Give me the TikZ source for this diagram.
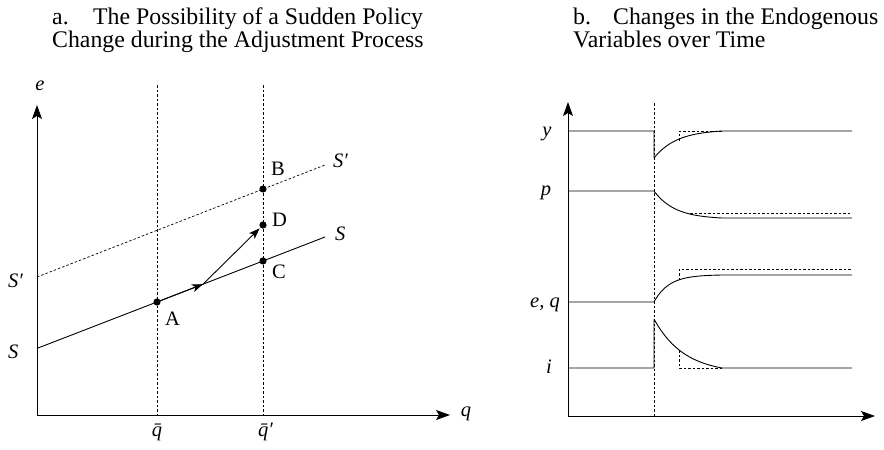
\documentclass[tikz,border=0pt]{standalone}
\usepackage{fontspec}
\setmainfont{Liberation Serif}
\usetikzlibrary{arrows.meta}
\begin{document}
\begin{tikzpicture}[x=1pt,y=-1pt,
  axis/.style={line width=1pt,-{Stealth[length=14pt,width=10pt,inset=3pt]}},
  curve/.style={line width=0.9pt},
  dots/.style={line width=0.7pt,dash pattern=on 2.5pt off 2pt},
  dotpt/.style={circle,fill=black,inner sep=0pt,minimum size=7.2pt},
  lab/.style={font=\fontsize{20.5}{22}\selectfont\itshape,inner sep=0pt,anchor=base},
  plab/.style={font=\fontsize{20.5}{22}\selectfont,inner sep=0pt,anchor=base west},
  ttl/.style={font=\fontsize{23.8}{26}\selectfont,inner sep=0pt,anchor=base west},
  midarrow/.style={line width=0.9pt,-{Stealth[length=11pt,width=8pt,inset=3pt]}}]
\useasboundingbox (0,0) rectangle (884,450);

% ---------- titles ----------
\node[ttl] (ta1) at (52,24) {\makebox[41pt][l]{a.}The Possibility of a Sudden Policy};
\node[ttl] (ta2) at (52,47) {Change during the Adjustment Process};
\node[ttl] (tb1) at (573,24) {\makebox[40pt][l]{b.}Changes in the Endogenous};
\node[ttl] (tb2) at (573,47) {Variables over Time};

% ---------- panel a ----------
\coordinate (Oa) at (37,415);
\coordinate (Ya) at (37,105);
\coordinate (Xa) at (450,415);
\coordinate (Q1t) at (157,85);
\coordinate (Q1b) at (157,415);
\coordinate (Q2t) at (263,85);
\coordinate (Q2b) at (263,415);
\draw[dots] (Q1t) -- (Q1b);
\draw[dots] (Q2t) -- (Q2b);
\draw[axis] (Oa) -- (Ya);
\draw[axis] (Oa) -- (Xa);

\coordinate (S0) at (37,348.4);
\coordinate (S1) at (325,237);
\coordinate (T0) at (37,277);
\coordinate (T1) at (325,165);
\draw[curve] (S0) -- (S1);
\draw[dots] (T0) -- (T1);

\node[dotpt] (A) at (157,302) {};
\node[dotpt] (C) at (263,261) {};
\node[dotpt] (B) at (263,189) {};
\node[dotpt] (D) at (263,225) {};
\coordinate (M) at (203,284.2);
\draw[midarrow] (A.center) -- (M);
\draw[midarrow,shorten >=1pt] (M) -- (D);

\node[lab] (le) at (40,90) {e};
\node[lab] (lq) at (466,416) {q};
\node[lab,anchor=base west] (lS1r) at (333,167) {S′};
\node[lab,anchor=base west] (lSr) at (335,240) {S};
\node[lab,anchor=base west] (lS1l) at (8,287) {S′};
\node[lab,anchor=base west] (lSl) at (8,358) {S};
\node[lab] (lqb) at (157,436) {\=q};
\node[lab,anchor=base west] (lqb2) at (258,436) {\=q′};

\node[plab] (lB) at (271,175) {B};
\node[plab] (lD) at (272,226) {D};
\node[plab] (lC) at (272,278) {C};
\node[plab] (lA) at (165,325) {A};

% ---------- panel b ----------
\coordinate (Ob) at (568,416);
\coordinate (Yb) at (568,102);
\coordinate (Xb) at (875,416);
\coordinate (Vt) at (654,103);
\coordinate (Vb) at (654,416);
\draw[dots] (Vt) -- (Vb);
\draw[axis] (Ob) -- (Yb);
\draw[axis] (Ob) -- (Xb);

% y
\draw[curve] (568,131) -- (654,131) -- (654,158) --
  plot[domain=0:68,samples=60,variable=\t] ({654+\t},{131+27*(exp(-\t/22.8)-exp(-68/22.8))/(1-exp(-68/22.8))}) -- (852,131);
\draw[dots] (679,140.5) -- (679,131) -- (722,131);
% p
\draw[curve] (568,191) -- (654,191) --
  plot[domain=0:68,samples=60,variable=\t] ({654+\t},{218-27*(exp(-\t/21)-exp(-68/21))/(1-exp(-68/21))}) -- (852,218);
\draw[dots] (690,213) -- (852,213);
% e,q
\draw[curve] (568,302) -- (654,302) --
  plot[domain=0:68,samples=60,variable=\t] ({654+\t},{275+27*(exp(-\t/15)-exp(-68/15))/(1-exp(-68/15))}) -- (852,275);
\draw[dots] (679,280) -- (679,269) -- (852,269);
% i
\draw[curve] (568,368) -- (654,368) -- (654,319) --
  plot[domain=0:68,samples=60,variable=\t] ({654+\t},{368-49*(exp(-\t/30)-exp(-68/30))/(1-exp(-68/30))}) -- (852,368);
\draw[dots] (679,350) -- (679,368) -- (722,368);

\node[lab] (ly) at (547,136) {y};
\node[lab] (lp) at (546,195) {p};
\node[lab] (leq) at (545,307) {e, q};
\node[lab] (li) at (549,373) {i};
\end{tikzpicture}
\end{document}
